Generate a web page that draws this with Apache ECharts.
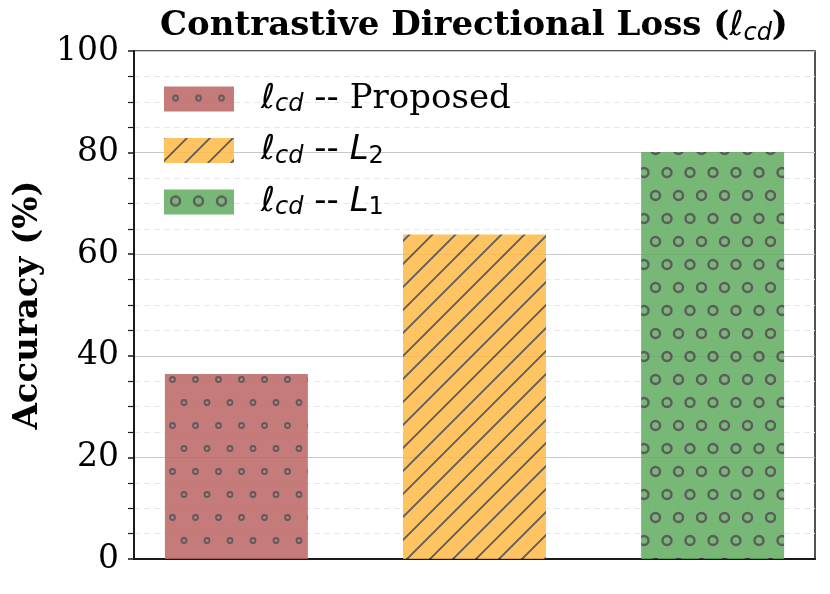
<!DOCTYPE html>
<html>
<head>
<meta charset="utf-8">
<script src="https://cdn.jsdelivr.net/npm/echarts@6/dist/echarts.min.js"></script>
<style>
html, body { margin: 0; padding: 0; background: #fff; }
#main { width: 830px; height: 594px; }
</style>
</head>
<body>
<div id="main"></div>
<script>
// data
var names = ['Proposed', 'L2', 'L1'];
var positions = [0, 1, 2];
var accuracy = [36.4, 63.9, 80.1];
var yTicks = [0, 20, 40, 60, 80, 100];

var colors = ['#bd6464', '#feba46', '#60ac60'];
var kinds = ['dots', 'hatch', 'circles'];

function makePattern(bg, kind) {
	var c = document.createElement('canvas');
	var w = 23, h = kind == 'hatch' ? 23 : 46;
	c.width = w;
	c.height = h;
	var ctx = c.getContext('2d');
	ctx.fillStyle = bg;
	ctx.fillRect(0, 0, w, h);
	ctx.strokeStyle = '#404040';
	if (kind == 'hatch') {
		ctx.lineWidth = 1.8;
		ctx.beginPath();
		ctx.moveTo(-2, w + 2); ctx.lineTo(w + 2, -2);
		ctx.moveTo(-2 - w, w + 2); ctx.lineTo(2, -2);
		ctx.moveTo(w - 2, w + 2); ctx.lineTo(2 * w + 2, -2);
		ctx.stroke();
	} else {
		var r = kind == 'dots' ? 2.5 : 4.5;
		ctx.lineWidth = kind == 'dots' ? 1.8 : 2.4;
		var pts = [[11.5, 11.5], [0, 34.5], [23, 34.5]];
		pts.forEach(function(p) {
			ctx.beginPath();
			ctx.arc(p[0], p[1], r, 0, Math.PI * 2);
			ctx.stroke();
		});
	}
	return { image: c, repeat: 'repeat' };
}

var mathRich = {
	m: { fontFamily: 'DejaVu Sans', fontStyle: 'italic', fontSize: 34, lineHeight: 36, color: '#000' },
	s: { fontFamily: 'DejaVu Sans', fontStyle: 'italic', fontSize: 24, lineHeight: 36, verticalAlign: 'bottom', color: '#000' },
	d: { fontFamily: 'DejaVu Sans', fontSize: 34, lineHeight: 36, color: '#000' },
	p: { fontFamily: 'DejaVu Serif', fontSize: 34, lineHeight: 36, color: '#000' },
	L: { fontFamily: 'DejaVu Sans', fontStyle: 'italic', fontSize: 34, lineHeight: 36, color: '#000' },
	n: { fontFamily: 'DejaVu Sans', fontSize: 24, lineHeight: 36, verticalAlign: 'bottom', color: '#000' }
};

var series = [];
for (var i = 0; i < names.length; i++) {
	series.push({
		name: names[i],
		type: 'bar',
		stack: 'all',
		barWidth: 143,
		data: [[positions[i], accuracy[i]]],
		itemStyle: {
			color: makePattern(colors[i], kinds[i]),
			opacity: 0.85
		}
	});
}

var myChart = echarts.init(document.getElementById('main'));
var option = {
	animation: false,
	title: {
		text: '{b|Contrastive Directional Loss (}{m|ℓ}{s|cd}{b|)}',
		left: 474,
		textAlign: 'center',
		top: 6,
		padding: 0,
		textStyle: {
			rich: {
				b: { fontFamily: 'DejaVu Serif', fontWeight: 'bold', fontSize: 34, lineHeight: 40, color: '#000' },
				m: { fontFamily: 'DejaVu Sans', fontWeight: 'normal', fontStyle: 'italic', fontSize: 34, lineHeight: 40, color: '#000' },
				s: { fontFamily: 'DejaVu Sans', fontWeight: 'normal', fontStyle: 'italic', fontSize: 24, lineHeight: 40, verticalAlign: 'bottom', color: '#000' }
			}
		}
	},
	legend: {
		left: 164,
		top: 82,
		padding: 0,
		orient: 'vertical',
		itemWidth: 70,
		itemHeight: 25,
		itemGap: 16.5,
		icon: 'rect',
		data: names,
		formatter: function(name) {
			if (name == 'Proposed') return '{m|ℓ}{s|cd}{d| -- }{p|Proposed}';
			if (name == 'L2') return '{m|ℓ}{s|cd}{d| -- }{L|L}{n|2}';
			return '{m|ℓ}{s|cd}{d| -- }{L|L}{n|1}';
		},
		textStyle: {
			padding: [0, 0, 0, 22],
			rich: mathRich
		}
	},
	grid: {
		left: 134,
		right: 15,
		top: 51,
		bottom: 35,
		show: true,
		borderColor: '#1a1a1a',
		borderWidth: 1.5
	},
	xAxis: {
		type: 'value',
		min: -0.43,
		max: 2.43,
		axisLine: { show: true, onZero: false, lineStyle: { color: '#1a1a1a', width: 2 } },
		axisTick: { show: false },
		axisLabel: { show: false },
		splitLine: { show: false }
	},
	yAxis: {
		type: 'value',
		name: 'Accuracy (%)',
		nameLocation: 'middle',
		nameGap: 85,
		nameTextStyle: { fontFamily: 'DejaVu Serif', fontWeight: 'bold', fontSize: 34, color: '#000' },
		min: yTicks[0],
		max: yTicks[yTicks.length - 1],
		interval: 20,
		axisLine: { show: true, onZero: false, lineStyle: { color: '#1a1a1a', width: 2 } },
		axisTick: { show: true, length: 6, lineStyle: { color: '#1a1a1a', width: 1.5 } },
		minorTick: { show: true, splitNumber: 4, length: 6, lineStyle: { color: '#1a1a1a', width: 1.2 } },
		axisLabel: { fontFamily: 'DejaVu Serif', fontSize: 33, color: '#000', margin: 15 },
		splitLine: { show: true, lineStyle: { color: '#c8c8c8', width: 1.2 } },
		minorSplitLine: { show: true, lineStyle: { color: '#e8e8e8', width: 1, type: [6, 4] } }
	},
	series: series
};
myChart.setOption(option);
</script>
</body>
</html>
